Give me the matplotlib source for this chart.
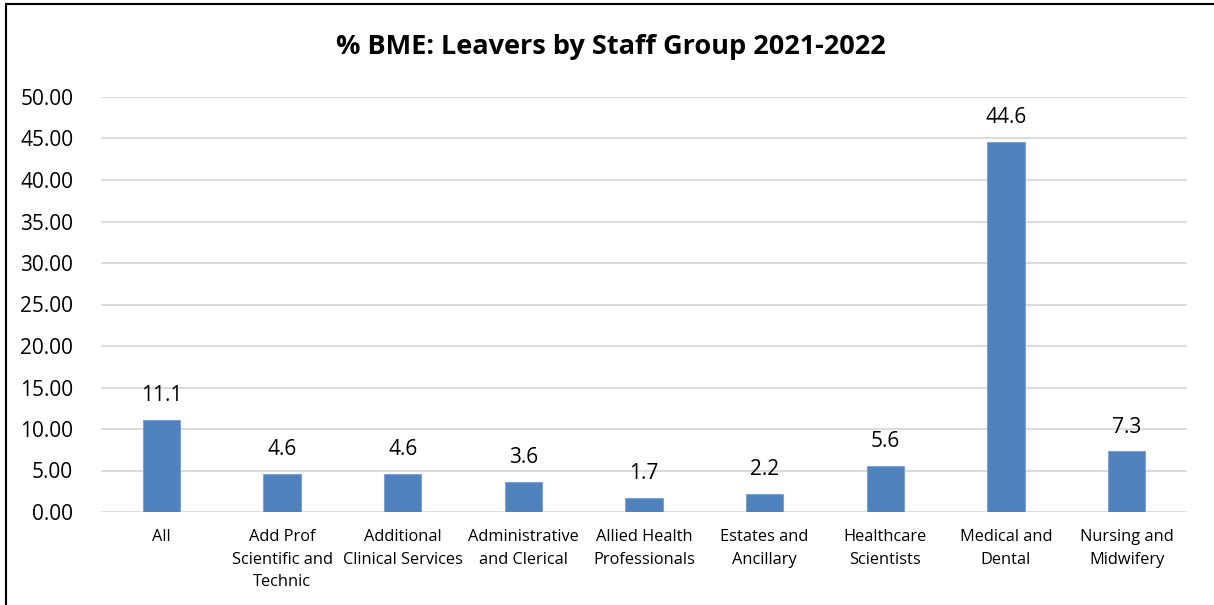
import matplotlib
matplotlib.use("Agg")
import matplotlib.pyplot as plt
from matplotlib.patches import Rectangle

categories = [
    "All",
    "Add Prof\nScientific and\nTechnic",
    "Additional\nClinical Services",
    "Administrative\nand Clerical",
    "Allied Health\nProfessionals",
    "Estates and\nAncillary",
    "Healthcare\nScientists",
    "Medical and\nDental",
    "Nursing and\nMidwifery",
]
values = [11.1, 4.6, 4.6, 3.6, 1.7, 2.2, 5.6, 44.6, 7.3]
y_ticks = [0, 5, 10, 15, 20, 25, 30, 35, 40, 45, 50]

plt.rcParams["font.family"] = ["Open Sans", "DejaVu Sans"]

fig = plt.figure(figsize=(12.14, 6.05), dpi=100)
ax = fig.add_axes([101 / 1214, 1 - 512 / 605, 1086 / 1214, 415 / 605])

x = list(range(len(categories)))
ax.bar(x, values, width=0.31, color="#4F81BD", edgecolor="#7FA3D1", linewidth=0.8, zorder=3)

for xi, v in zip(x, values):
    ax.annotate(f"{v:.1f}", (xi, v), xytext=(0, 17.5), textcoords="offset points",
                ha="center", va="center", fontsize=15, color="#000000")

ax.set_xlim(-0.5, len(categories) - 0.5)
ax.set_ylim(0, 50)
ax.set_yticks(y_ticks)
ax.set_yticklabels([f"{t:.2f}" for t in y_ticks], fontsize=15)
ax.set_xticks(x)
ax.set_xticklabels(categories, fontsize=11.8, linespacing=1.52)
ax.tick_params(axis="both", length=0, colors="#000000")
ax.tick_params(axis="y", pad=20)
ax.tick_params(axis="x", pad=12.5)

ax.yaxis.grid(True, color="#D9D9D9", linewidth=1.3, zorder=0)
ax.xaxis.grid(False)
for s in ax.spines.values():
    s.set_visible(False)

fig.text(611 / 1214, 1 - 47.5 / 605, "% BME: Leavers by Staff Group 2021-2022",
         ha="center", va="center", fontsize=19.5, fontweight="bold")

# chart frame (left and top edges inside the canvas)
fig.patches.append(Rectangle((6 / 1214, -0.05), 1.2, 1 - 4 / 605 + 0.05,
                             transform=fig.transFigure, fill=False,
                             edgecolor="#000000", linewidth=1.5))

fig.savefig("out.png", dpi=100)
